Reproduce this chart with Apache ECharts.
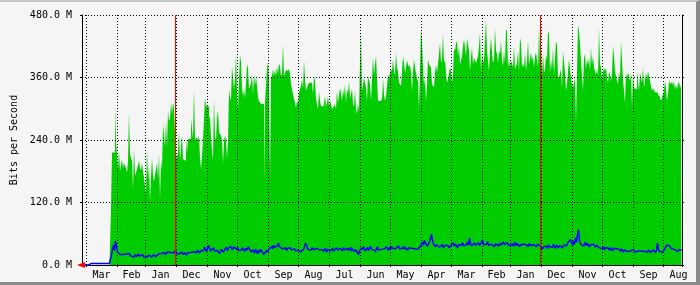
<!DOCTYPE html>
<html>
<head>
<meta charset="utf-8">
<script src="https://cdn.jsdelivr.net/npm/echarts@6/dist/echarts.min.js"></script>
<style>
html,body{margin:0;padding:0;background:#f5f5f5;}
#frame{width:700px;height:285px;box-sizing:border-box;border-top:2px solid #c6c6c6;border-right:4px solid #8a8a8a;border-bottom:3px solid #8a8a8a;background:#f5f5f5;}
#chart{width:696px;height:280px;}
</style>
</head>
<body>
<div id="frame"><div id="chart"></div></div>
<script>
// Display order: newest day on the left (MRTG yearly graph), one value per day.
const monthLabels = ['Apr','Mar','Feb','Jan','Dec','Nov','Oct','Sep','Aug','Jul','Jun','May','Apr','Mar','Feb','Jan','Dec','Nov','Oct','Sep','Aug'];
const monthDays   = [4,31,28,31,31,30,31,30,31,31,30,31,30,31,28,31,31,30,31,30,19];
const yMax = 480;
const yStep = 120;
const yUnit = ' M';

// Incoming traffic (green), Mbit/s
const inBits = [
0,0,0,0,0,0,0,0,0,0,0,0,0,0,0,0,0,0,0,0,0,0,0,0,0,0,0,0,0,
110,216,216,216,305,238,235,184,220,180,
180,203,186,196,196,186,177,200,292,213,
205,200,146,223,171,173,184,184,200,186,
182,196,180,167,165,138,223,165,190,123,
169,205,173,160,173,173,196,165,213,127,
200,184,270,273,228,276,226,296,276,282,
312,290,312,302,305,203,205,215,257,200,
226,249,203,205,200,244,215,242,242,242,
282,261,243,338,240,243,246,240,248,205,
185,210,240,238,321,305,302,305,282,286,
243,246,200,321,246,240,282,298,255,252,
248,240,195,238,248,240,205,238,338,321,
317,382,382,338,359,405,334,299,353,403,
390,340,324,338,319,349,386,378,338,335,
349,366,328,366,344,362,344,321,315,318,
309,311,309,156,311,309,378,388,359,167,
359,363,376,363,376,363,382,367,386,382,
363,367,424,363,367,376,372,369,376,367,
347,347,328,328,311,302,315,311,331,328,
344,357,339,392,357,334,341,341,350,353,
350,347,328,363,353,319,319,299,334,315,
305,302,305,311,324,305,311,324,305,315,
309,299,296,305,309,299,334,311,311,340,
330,315,338,324,347,311,338,330,353,320,
328,338,309,305,334,299,290,311,296,388,
449,334,336,359,359,341,315,363,365,347,
315,315,398,366,385,401,359,315,313,315,
321,315,357,328,315,324,344,366,359,369,
376,372,395,372,366,408,379,372,350,347,
344,347,401,388,369,379,392,395,379,385,
369,334,372,395,379,369,359,353,299,372,
455,430,379,344,359,315,344,395,385,385,
379,347,344,341,369,385,369,372,405,426,
388,395,443,388,395,369,350,356,369,379,
372,350,366,417,411,426,430,401,420,385,
388,401,420,434,417,401,436,434,411,372,
398,417,385,398,398,388,388,401,420,446,
369,408,388,395,430,472,411,414,372,411,
437,408,388,395,455,411,405,388,411,405,
430,392,382,411,388,453,449,379,395,379,
392,388,379,420,376,379,388,411,373,436,
426,379,388,379,408,373,392,430,385,382,
408,392,401,379,401,408,405,379,459,382,
424,366,405,369,376,405,392,449,443,369,
395,376,417,366,369,428,424,363,359,369,
376,340,411,408,369,334,347,344,395,395,
359,347,341,350,360,276,369,462,449,424,
392,363,334,398,405,376,395,385,398,372,
417,385,401,379,372,366,376,363,455,385,
379,359,356,379,372,379,359,350,372,366,
353,366,420,401,372,363,353,347,372,356,
430,433,356,334,311,369,359,369,363,353,
369,302,369,340,337,337,372,353,334,369,
366,350,379,341,341,369,356,372,363,353,
344,334,340,340,331,328,331,324,328,321,
315,315,328,334,353,340,315,328,353,350,
347,353,344,353,337,347,337,347,353,340,
345
];

// Outgoing traffic (blue), Mbit/s
const outBits = [
0,0,0,0,0,0,0,0,
3,3,3,3,3,3,3,3,3,3,3,3,3,3,3,3,3,3,3,3,3,
20,30,38,28,46,35,25,22,24,20,
22,18,20,23,19,21,24,20,22,18,
20,17,15,18,20,16,19,21,17,15,
18,20,16,19,17,15,18,16,19,17,
15,17,20,18,16,19,17,21,18,20,
22,19,21,24,20,23,25,22,26,24,
27,25,23,26,28,22,20,24,21,23,
25,22,20,24,21,19,23,26,22,24,
27,23,25,22,26,24,28,25,23,27,
25,30,28,35,30,26,28,38,32,27,
25,29,33,27,30,24,28,31,22,26,
30,27,25,29,31,34,28,32,30,36,
33,29,35,38,32,30,34,28,31,27,
29,33,30,26,32,28,31,35,30,27,
25,29,27,23,31,26,22,28,24,30,
27,25,20,23,17,28,24,30,27,33,
35,31,38,34,36,32,37,42,35,33,
36,31,34,30,33,28,32,35,30,33,
29,32,28,31,27,30,26,29,27,25,
28,26,30,33,42,38,31,29,32,28,
30,33,29,31,27,32,30,34,29,31,
27,30,26,28,32,25,30,28,31,27,
29,32,27,30,26,33,29,31,28,32,
30,27,33,29,31,26,32,28,30,34,
27,31,29,26,30,32,28,20,27,30,
33,29,35,31,27,30,34,28,32,36,
30,27,33,29,25,31,35,29,32,28,
30,33,27,31,29,35,32,28,34,30,
36,32,29,35,31,28,34,37,31,33,
29,32,36,30,34,31,28,33,30,35,
32,29,35,31,28,33,30,27,32,36,
40,44,38,47,42,39,36,41,45,50,
59,48,40,38,35,39,36,40,34,37,
35,39,33,37,40,34,38,36,33,37,
35,38,42,36,40,37,33,39,41,36,
38,43,37,40,36,39,44,38,52,41,
37,40,36,42,38,35,39,43,37,40,
44,48,39,42,36,40,45,38,41,37,
40,43,38,35,41,44,39,36,42,38,
41,37,44,39,36,40,43,38,35,41,
38,42,36,40,44,37,41,38,35,39,
42,36,40,37,43,39,35,38,41,37,
40,36,39,42,38,35,40,37,39,36,
34,31,35,33,38,36,32,39,35,33,
37,34,40,36,32,38,35,33,37,34,
36,33,38,35,39,37,42,45,40,49,
43,38,46,40,52,44,58,68,47,41,
38,42,36,40,44,37,41,38,35,39,
42,36,40,37,34,38,35,39,33,36,
34,31,35,29,33,30,36,32,28,33,
30,27,32,29,34,31,28,33,30,26,
31,28,25,29,27,30,26,28,24,27,
29,26,30,27,25,28,24,27,29,25,
27,24,28,26,23,27,25,29,26,24,
27,25,29,26,24,28,42,30,26,24,
27,25,28,30,34,38,36,40,37,34,
31,28,33,30,27,29,26,28,30,27,
28
];

// ---- derived helpers ----
const dayCats = inBits.map((_, i) => 'd' + i);
const boundarySet = new Set();
const labelAt = {};
const yearLines = [];
let start = 0;
monthDays.forEach((d, k) => {
  if (k > 0) {
    boundarySet.add(start);
    if (monthLabels[k] === 'Dec' && monthLabels[k - 1] === 'Jan') yearLines.push(start - 1);
  }
  const mid = start + (monthLabels[k] === 'Feb' ? 14 : 15);
  if (mid < start + d) labelAt[mid] = monthLabels[k];
  start += d;
});

const FONT = 'DejaVu Sans Mono';
const isBoundary = (i) => boundarySet.has(i);
const dotted = { color: '#000', width: 1, type: [1, 2] };

const chart = echarts.init(document.getElementById('chart'), null, { renderer: 'canvas' });
chart.setOption({
  animation: false,
  backgroundColor: '#f5f5f5',
  grid: { left: 82, top: 13, width: 600, height: 250, containLabel: false, outerBoundsMode: 'none' },
  xAxis: [
    {
      type: 'category', data: dayCats, boundaryGap: true, position: 'bottom', z: 3,
      axisLine: { show: true, lineStyle: { color: '#000', width: 1 } },
      axisTick: { show: true, length: 2, interval: isBoundary, lineStyle: { color: '#000', width: 1 } },
      splitLine: { show: true, interval: isBoundary, lineStyle: dotted },
      axisLabel: {
        show: true, interval: (i) => labelAt[i] !== undefined,
        formatter: (v, i) => labelAt[i] || '',
        margin: 5, color: '#000', fontFamily: FONT, fontSize: 10
      }
    },
    {
      type: 'category', data: dayCats, position: 'top', z: 3,
      axisLine: { show: true, lineStyle: { color: '#000', width: 1 } },
      axisTick: { show: false }, axisLabel: { show: false }, splitLine: { show: false }
    },
    {
      type: 'category', data: dayCats, position: 'bottom', z: 5,
      axisLine: { show: true, symbol: ['triangle', 'none'], symbolSize: [6, 8], symbolOffset: [-1, 0],
        lineStyle: { color: '#ff0000', width: 0 } },
      axisTick: { show: false }, axisLabel: { show: false }, splitLine: { show: false }
    }
  ],
  yAxis: [
    {
      type: 'value', min: 0, max: yMax, interval: yStep, position: 'left', z: 3,
      axisLine: { show: true, lineStyle: { color: '#000', width: 1 } },
      axisTick: { show: true, length: 2, lineStyle: { color: '#000' } },
      splitLine: { show: true, lineStyle: dotted },
      axisLabel: { formatter: (v) => v.toFixed(1) + yUnit, margin: 10, color: '#000', fontFamily: FONT, fontSize: 10 },
      name: 'Bits per Second', nameLocation: 'middle', nameGap: 62,
      nameTextStyle: { color: '#000', fontFamily: FONT, fontSize: 10 }
    },
    {
      type: 'value', min: 0, max: yMax, interval: yStep, position: 'right', z: 3,
      axisLine: { show: true, lineStyle: { color: '#000', width: 1 } },
      axisTick: { show: true, length: 2, lineStyle: { color: '#000' } },
      axisLabel: { show: false }, splitLine: { show: false }
    }
  ],
  series: [
    {
      type: 'line', name: 'In', data: inBits, xAxisIndex: 0, yAxisIndex: 0,
      step: 'middle', symbol: 'none', showSymbol: false, silent: true, z: 1,
      lineStyle: { width: 0 }, itemStyle: { color: '#00cc00' },
      areaStyle: { color: '#00cc00', opacity: 1 }
    },
    {
      type: 'line', name: 'Out', data: outBits, xAxisIndex: 0, yAxisIndex: 0,
      symbol: 'none', showSymbol: false, silent: true, z: 4,
      lineStyle: { color: '#0000ff', width: 1.5 }, itemStyle: { color: '#0000ff' },
      markLine: {
        silent: true, symbol: ['none', 'none'], label: { show: false }, animation: false, z: 6,
        lineStyle: { color: '#ff0000', width: 1, type: 'solid' },
        data: yearLines.map((i) => ({ xAxis: dayCats[i] }))
      }
    }
  ]
});
</script>
</body>
</html>
